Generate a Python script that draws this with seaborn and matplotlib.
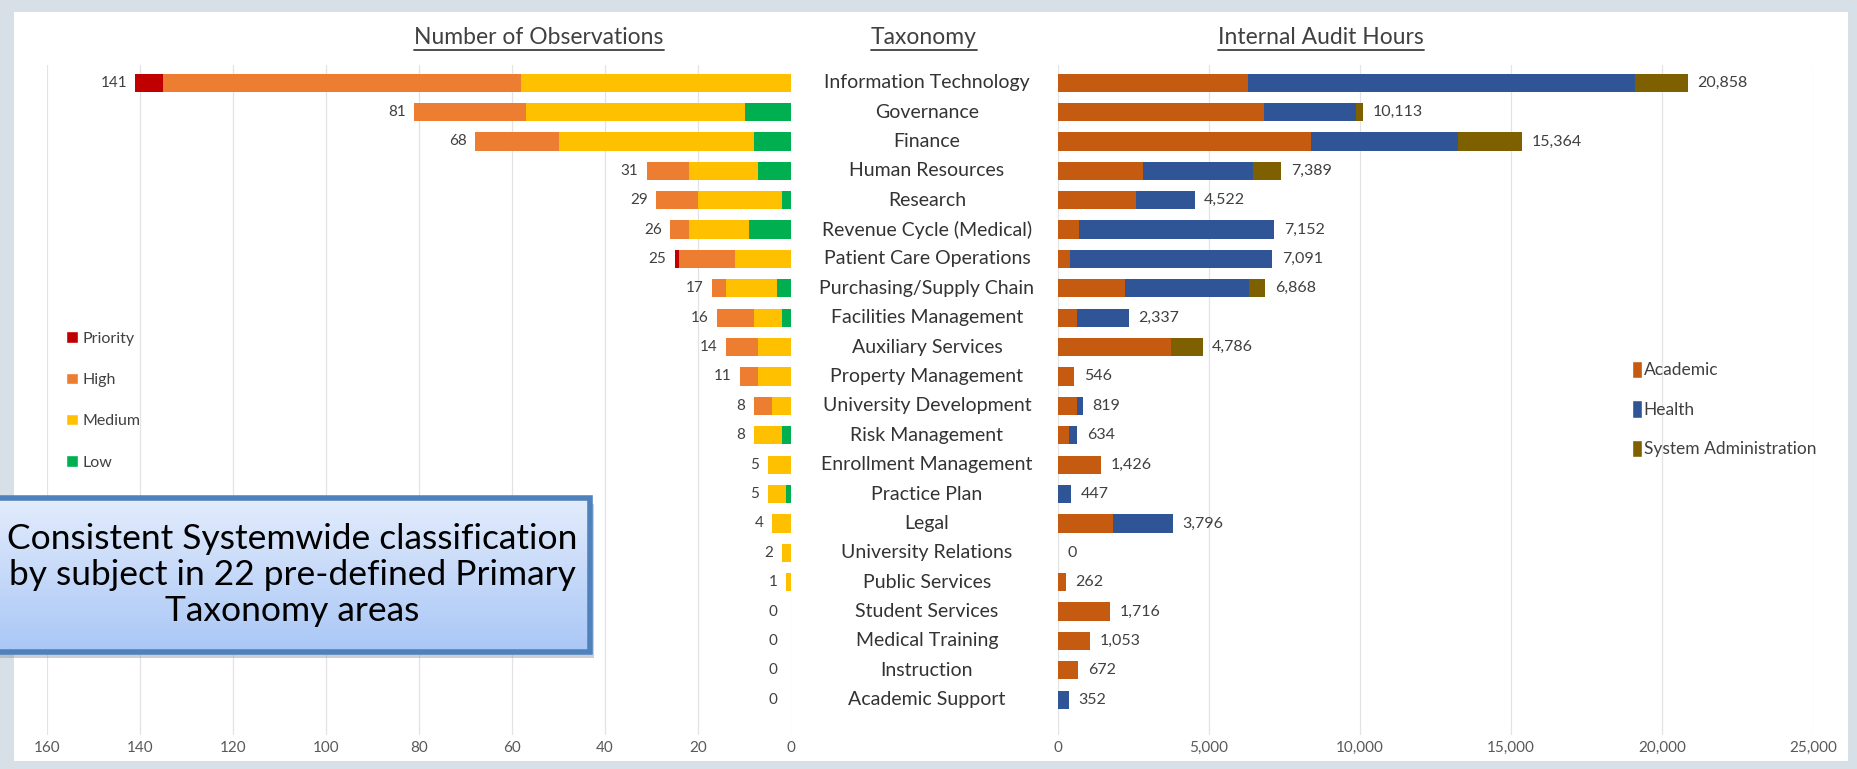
import numpy as np
import pandas as pd
import matplotlib
matplotlib.use('Agg')
import matplotlib.pyplot as plt
import seaborn as sns
from matplotlib.patches import Patch, Rectangle
from matplotlib.lines import Line2D
from matplotlib import transforms

# taxonomy areas, top to bottom
categories = ['Information Technology', 'Governance', 'Finance', 'Human Resources', 'Research',
              'Revenue Cycle (Medical)', 'Patient Care Operations', 'Purchasing/Supply Chain',
              'Facilities Management', 'Auxiliary Services', 'Property Management',
              'University Development', 'Risk Management', 'Enrollment Management',
              'Practice Plan', 'Legal', 'University Relations', 'Public Services',
              'Student Services', 'Medical Training', 'Instruction', 'Academic Support']

# number of observations by rating
priority = [6, 0, 0, 0, 0, 0, 1, 0, 0, 0, 0, 0, 0, 0, 0, 0, 0, 0, 0, 0, 0, 0]
high = [77, 24, 18, 9, 9, 4, 12, 3, 8, 7, 4, 4, 0, 0, 0, 0, 0, 0, 0, 0, 0, 0]
medium = [58, 47, 42, 15, 18, 13, 12, 11, 6, 7, 7, 4, 6, 5, 4, 4, 2, 1, 0, 0, 0, 0]
low = [0, 10, 8, 7, 2, 9, 0, 3, 2, 0, 0, 0, 2, 0, 1, 0, 0, 0, 0, 0, 0, 0]

# internal audit hours by location
academic = [6300, 6820, 8390, 2830, 2580, 680, 400, 2230, 630, 3750, 546, 630, 375, 1426,
            0, 1807, 0, 262, 1716, 1053, 672, 0]
health = [12800, 3050, 4840, 3640, 1942, 6472, 6691, 4090, 1707, 0, 0, 189, 259, 0,
          447, 1989, 0, 0, 0, 0, 0, 352]
sysadmin = [1758, 243, 2134, 919, 0, 0, 0, 548, 0, 1036, 0, 0, 0, 0,
            0, 0, 0, 0, 0, 0, 0, 0]

obs_ticks = [0, 20, 40, 60, 80, 100, 120, 140, 160]
hour_ticks = [0, 5000, 10000, 15000, 20000, 25000]

W, H = 1858, 769
FONT = ['Lato', 'DejaVu Sans']
TXT = '#404040'

sns.set_theme(style='white')
plt.rcParams['font.family'] = FONT

fig = plt.figure(figsize=(W / 100, H / 100), dpi=100)
fig.patch.set_facecolor('#d7dfe7')
fig.add_artist(Rectangle((14 / W, 8 / H), (1848 - 14) / W, (757 - 8) / H,
                         transform=fig.transFigure, facecolor='white', edgecolor='none', zorder=0))

def px_axes(x0, x1, y_top, y_bot):
    return fig.add_axes([x0 / W, 1 - y_bot / H, (x1 - x0) / W, (y_bot - y_top) / H])

ax_l = px_axes(47, 791, 65, 735)
ax_r = px_axes(1058, 1813, 65, 735)

obs = pd.DataFrame({'cat': categories, 'Priority': priority, 'High': high,
                    'Medium': medium, 'Low': low})
hrs = pd.DataFrame({'cat': categories, 'Academic': academic, 'Health': health,
                    'System Administration': sysadmin})

obs_colors = {'Priority': '#c00000', 'High': '#ed7d31', 'Medium': '#ffc000', 'Low': '#00b050'}
hrs_colors = {'Academic': '#c55a11', 'Health': '#2f5597', 'System Administration': '#7f6000'}

# stacked bars: draw cumulative totals, widest first
stack_l = ['Low', 'Medium', 'High', 'Priority']
cum = obs[stack_l].cumsum(axis=1)
for col in reversed(stack_l):
    sns.barplot(x=cum[col], y=obs['cat'], order=categories, orient='h', color=obs_colors[col],
                saturation=1, width=0.62, errorbar=None, ax=ax_l, zorder=3, linewidth=0)

stack_r = ['Academic', 'Health', 'System Administration']
cum_r = hrs[stack_r].cumsum(axis=1)
for col in reversed(stack_r):
    sns.barplot(x=cum_r[col], y=hrs['cat'], order=categories, orient='h', color=hrs_colors[col],
                saturation=1, width=0.62, errorbar=None, ax=ax_r, zorder=3, linewidth=0)

for ax in (ax_l, ax_r):
    ax.set_ylim(22.2, -0.6)
    ax.set_yticks([])
    ax.set_xlabel('')
    ax.set_ylabel('')
    sns.despine(ax=ax, left=True, bottom=True)
    ax.grid(axis='x', color='#e3e3e3', lw=0.9, zorder=0)
    ax.tick_params(axis='x', length=0, labelsize=11, labelcolor='#595959', pad=4)
    ax.patch.set_alpha(0)

ax_l.set_xlim(160, 0)
ax_l.set_xticks(obs_ticks)
ax_r.set_xlim(0, 25000)
ax_r.set_xticks(hour_ticks)
ax_r.set_xticklabels([f'{t:,}' for t in hour_ticks])

# value labels
tot_l = cum['Priority']
for i, v in enumerate(tot_l):
    ax_l.annotate(f'{v}', xy=(v, i), xytext=(-6 if v else -10, 0), textcoords='offset points',
                  ha='right', va='center', fontsize=11, color=TXT)
tot_r = cum_r['System Administration']
for i, v in enumerate(tot_r):
    ax_r.annotate(f'{v:,}', xy=(v, i), xytext=(7, 0), textcoords='offset points',
                  ha='left', va='center', fontsize=11.5, color=TXT)

# taxonomy names in the middle
tr = transforms.blended_transform_factory(fig.transFigure, ax_l.transData)
for i, c in enumerate(categories):
    fig.text(927 / W, i, c, transform=tr, ha='center', va='center', fontsize=14, color='#333333')

# underlined headers
titles = []
for x, s in [(539, 'Number of Observations'), (924, 'Taxonomy'), (1321, 'Internal Audit Hours')]:
    titles.append(fig.text(x / W, 1 - 38 / H, s, ha='center', va='center', fontsize=16.5, color=TXT))

# legends
h_l = [Patch(facecolor=obs_colors[k], label=k) for k in ['Priority', 'High', 'Medium', 'Low']]
fig.legend(handles=h_l, loc='upper left', bbox_to_anchor=(52 / W, 1 - 317 / H), frameon=False,
           handlelength=0.7, handleheight=0.7, handletextpad=0.3, labelspacing=1.7,
           fontsize=11.5, labelcolor=TXT)
h_r = [Patch(facecolor=hrs_colors[k], label=k) for k in stack_r]
fig.legend(handles=h_r, loc='upper left', bbox_to_anchor=(1616 / W, 1 - 345 / H), frameon=False,
           handlelength=0.6, handleheight=1.2, handletextpad=0.1, labelspacing=1.25,
           fontsize=12.5, labelcolor=TXT)

# callout box with gradient fill
bx0, bx1, by0, by1 = -6, 590, 498, 652
shadow = Rectangle(((bx0 + 4) / W, 1 - (by1 + 6) / H), (bx1 - bx0) / W, (by1 - by0) / H,
                   transform=fig.transFigure, facecolor='#8e98a3', alpha=0.45, edgecolor='none', zorder=4)
fig.add_artist(shadow)
ax_box = px_axes(bx0, bx1, by0, by1)
ax_box.set_zorder(10)
grad = np.linspace(0, 1, 100).reshape(-1, 1)
cmap = matplotlib.colors.LinearSegmentedColormap.from_list('box', ['#e3ecfc', '#a9c7f6'])
ax_box.imshow(grad, aspect='auto', cmap=cmap, extent=(0, 1, 1, 0))
ax_box.set_xlim(0, 1)
ax_box.set_ylim(1, 0)
ax_box.axis('off')
ax_box.add_patch(Rectangle((0, 0), 1, 1, transform=ax_box.transAxes, fill=False,
                           edgecolor='#4f81bd', lw=4, clip_on=False))
ax_box.text(0.5, 0.5, 'Consistent Systemwide classification\nby subject in 22 pre-defined Primary\nTaxonomy areas',
            transform=ax_box.transAxes, ha='center', va='center', fontsize=25.5, color='black',
            linespacing=1.17)

fig.canvas.draw()
r = fig.canvas.get_renderer()
for t in titles:
    bb = t.get_window_extent(r).transformed(fig.transFigure.inverted())
    fig.add_artist(Line2D([bb.x0, bb.x1], [bb.y0 - 0.002] * 2, transform=fig.transFigure,
                          color=TXT, lw=1.3))

fig.savefig('out.png', dpi=100, facecolor=fig.get_facecolor())
